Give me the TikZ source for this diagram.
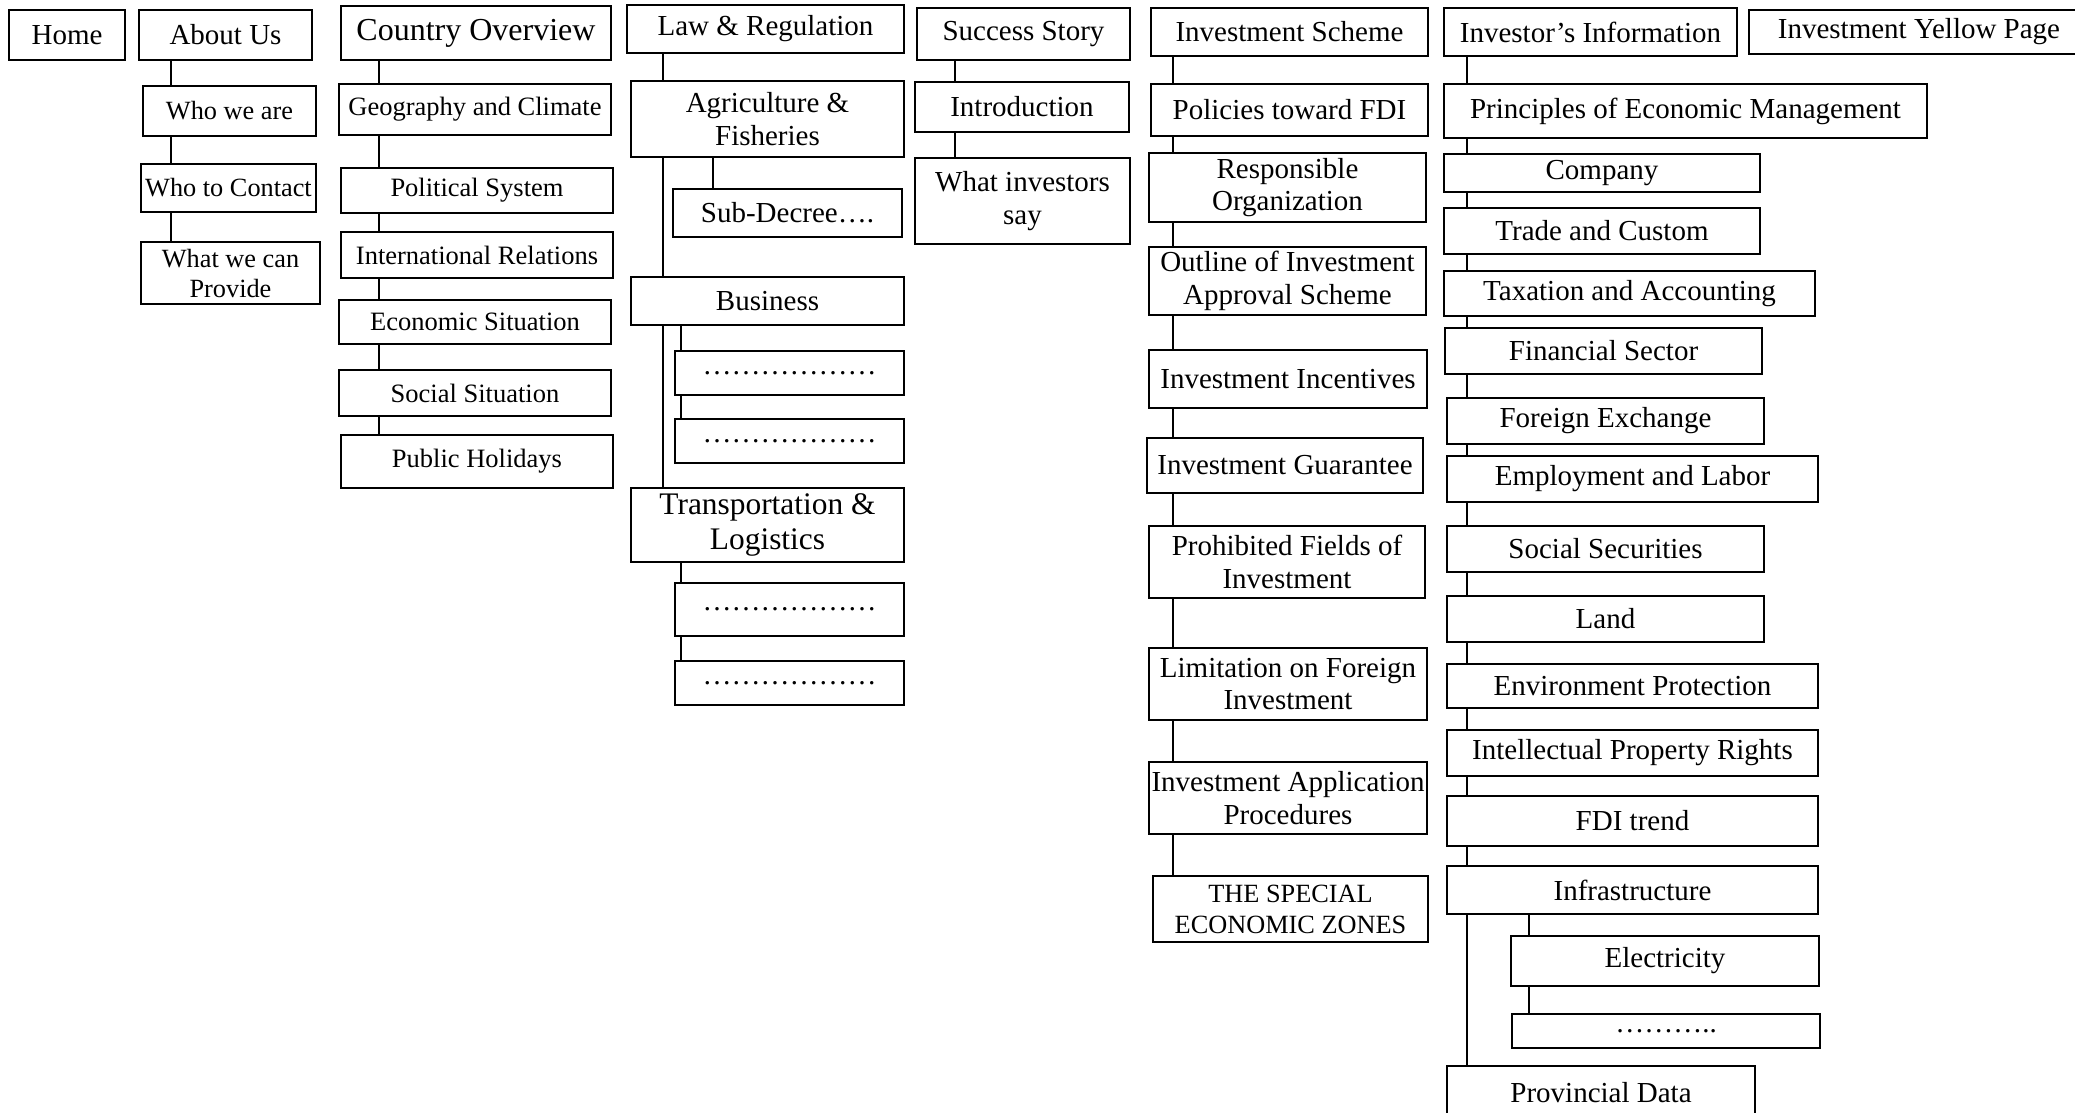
\documentclass[tikz,border=0pt]{standalone}
\usepackage{fontspec}
\setmainfont{Liberation Serif}

\tikzset{
  bx/.style={draw, line width=1.1pt, anchor=north west, inner sep=0pt, outer sep=0pt, align=center},
  lk/.style={line width=1.8pt},
  tophead/.style={font=\fontsize{29}{32}\selectfont},
  aboutitem/.style={font=\fontsize{26.3}{30}\selectfont},
  countryhead/.style={font=\fontsize{32}{36}\selectfont},
  countryitem/.style={font=\fontsize{26.5}{30}\selectfont},
  plainitem/.style={font=\fontsize{29}{32.5}\selectfont},
  bigitem/.style={font=\fontsize{31.4}{35}\selectfont},
  smallitem/.style={font=\fontsize{26.3}{31}\selectfont},
  infoitem/.style={font=\fontsize{29}{32}\selectfont},
}

\begin{document}
\begin{tikzpicture}[x=1pt, y=-1pt]
      \useasboundingbox (0,0) rectangle (2075,1112);
      \clip (0,0) rectangle (2075,1112);

      \node[bx, tophead, minimum width=116, minimum height=50] (home) at (9,10) {Home};

      \node[bx, tophead, minimum width=173, minimum height=50] (a0) at (139,10) {About Us};
      \node[bx, aboutitem, minimum width=173, minimum height=50] (a1) at (143,86) {Who we are};
      \node[bx, aboutitem, minimum width=175, minimum height=48] (a2) at (141,164) {Who to Contact};
      \node[bx, aboutitem, minimum width=179, minimum height=62] (a3) at (141,242) {What we can\\Provide};

      \node[bx, countryhead, minimum width=270, minimum height=54] (c0) at (341,6) {Country Overview};
      \node[bx, countryitem, minimum width=272, minimum height=51] (c1) at (339,84) {Geography and Climate};
      \node[bx, countryitem, minimum width=272, minimum height=45] (c2) at (341,168) {Political System};
      \node[bx, countryitem, minimum width=272, minimum height=46] (c3) at (341,232) {International Relations};
      \node[bx, countryitem, minimum width=272, minimum height=44] (c4) at (339,300) {Economic Situation};
      \node[bx, countryitem, minimum width=272, minimum height=46] (c5) at (339,370) {Social Situation};
      \node[bx, countryitem, minimum width=272, minimum height=53] (c6) at (341,435) {Public Holidays};

      \node[bx, plainitem, minimum width=277, minimum height=48] (l0) at (627,5) {Law \& Regulation};
      \node[bx, plainitem, minimum width=273, minimum height=76] (l1) at (631,81) {Agriculture \&\\Fisheries};
      \node[bx, plainitem, minimum width=229, minimum height=48] (l2) at (673,189) {Sub-Decree….};
      \node[bx, plainitem, minimum width=273, minimum height=48] (l3) at (631,277) {Business};
      \node[bx, plainitem, minimum width=229, minimum height=44] (l4) at (675,351) {………………};
      \node[bx, plainitem, minimum width=229, minimum height=44] (l5) at (675,419) {………………};
      \node[bx, bigitem, minimum width=273, minimum height=74] (l6) at (631,488) {Transportation \&\\Logistics};
      \node[bx, plainitem, minimum width=229, minimum height=53] (l7) at (675,583) {………………};
      \node[bx, plainitem, minimum width=229, minimum height=44] (l8) at (675,661) {………………};

      \node[bx, plainitem, minimum width=213, minimum height=52] (s0) at (917,8) {Success Story};
      \node[bx, plainitem, minimum width=214, minimum height=50] (s1) at (915,82) {Introduction};
      \node[bx, plainitem, minimum width=215, minimum height=86] (s2) at (915,158) {What investors\\say};

      \node[bx, plainitem, minimum width=277, minimum height=48] (i0) at (1151,8) {Investment Scheme};
      \node[bx, plainitem, minimum width=277, minimum height=52] (i1) at (1151,84) {Policies toward FDI};
      \node[bx, plainitem, minimum width=277, minimum height=69] (i2) at (1149,153) {Responsible\\Organization};
      \node[bx, plainitem, minimum width=277, minimum height=68] (i3) at (1149,247) {Outline of Investment\\Approval Scheme};
      \node[bx, plainitem, minimum width=278, minimum height=58] (i4) at (1149,350) {Investment Incentives};
      \node[bx, plainitem, minimum width=276, minimum height=55] (i5) at (1147,438) {Investment Guarantee};
      \node[bx, plainitem, minimum width=276, minimum height=72] (i6) at (1149,526) {Prohibited Fields of\\Investment};
      \node[bx, plainitem, minimum width=278, minimum height=72] (i7) at (1149,648) {Limitation on Foreign\\Investment};
      \node[bx, plainitem, minimum width=278, minimum height=72] (i8) at (1149,762) {Investment Application\\Procedures};
      \node[bx, smallitem, minimum width=275, minimum height=66] (i9) at (1153,876) {THE SPECIAL\\ECONOMIC ZONES};

      \node[bx, infoitem, minimum width=293, minimum height=48] (f0) at (1444,8) {Investor’s Information};
      \node[bx, infoitem, minimum width=340, minimum height=44] (yp) at (1749,10) {Investment Yellow Page};
      \node[bx, infoitem, minimum width=483, minimum height=54] (f1) at (1444,84) {Principles of Economic Management};
      \node[bx, infoitem, minimum width=316, minimum height=38] (f2) at (1444,154) {Company};
      \node[bx, infoitem, minimum width=316, minimum height=46] (f3) at (1444,208) {Trade and Custom};
      \node[bx, infoitem, minimum width=371, minimum height=45] (f4) at (1444,271) {Taxation and Accounting};
      \node[bx, infoitem, minimum width=317, minimum height=46] (f5) at (1445,328) {Financial Sector};
      \node[bx, infoitem, minimum width=317, minimum height=46] (f6) at (1447,398) {Foreign Exchange};
      \node[bx, infoitem, minimum width=371, minimum height=46] (f7) at (1447,456) {Employment and Labor};
      \node[bx, infoitem, minimum width=317, minimum height=46] (f8) at (1447,526) {Social Securities};
      \node[bx, infoitem, minimum width=317, minimum height=46] (f9) at (1447,596) {Land};
      \node[bx, infoitem, minimum width=371, minimum height=44] (f10) at (1447,664) {Environment Protection};
      \node[bx, infoitem, minimum width=371, minimum height=46] (f11) at (1447,730) {Intellectual Property Rights};
      \node[bx, infoitem, minimum width=371, minimum height=50] (f12) at (1447,796) {FDI trend};
      \node[bx, infoitem, minimum width=371, minimum height=48] (f13) at (1447,866) {Infrastructure};
      \node[bx, infoitem, minimum width=308, minimum height=50] (f14) at (1511,936) {Electricity};
      \node[bx, infoitem, minimum width=308, minimum height=34] (f15) at (1512,1014) {………..};
      \node[bx, infoitem, minimum width=308, minimum height=54] (f16) at (1447,1066) {Provincial Data};

      \coordinate (ax) at (171,0);
      \coordinate (cx) at (379,0);
      \coordinate (lx) at (663,0);
      \coordinate (lsx) at (681,0);
      \coordinate (lax) at (713,0);
      \coordinate (sx) at (955,0);
      \coordinate (ix) at (1173,0);
      \coordinate (fx) at (1467,0);
      \coordinate (fsx) at (1529,0);

      \foreach \p/\q in {a0/a1, a1/a2, a2/a3}
        \draw[lk] (\p.south -| ax) -- (\q.north -| ax);
      \foreach \p/\q in {c0/c1, c1/c2, c2/c3, c3/c4, c4/c5, c5/c6}
        \draw[lk] (\p.south -| cx) -- (\q.north -| cx);
      \foreach \p/\q in {l0/l1, l1/l3, l3/l6}
        \draw[lk] (\p.south -| lx) -- (\q.north -| lx);
      \foreach \p/\q in {l3/l4, l4/l5, l6/l7, l7/l8}
        \draw[lk] (\p.south -| lsx) -- (\q.north -| lsx);
      \draw[lk] (l1.south -| lax) -- (l2.north -| lax);
      \foreach \p/\q in {s0/s1, s1/s2}
        \draw[lk] (\p.south -| sx) -- (\q.north -| sx);
      \foreach \p/\q in {i0/i1, i1/i2, i2/i3, i3/i4, i4/i5, i5/i6, i6/i7, i7/i8, i8/i9}
        \draw[lk] (\p.south -| ix) -- (\q.north -| ix);
      \foreach \p/\q in {f0/f1, f1/f2, f2/f3, f3/f4, f4/f5, f5/f6, f6/f7, f7/f8, f8/f9, f9/f10, f10/f11, f11/f12, f12/f13, f13/f16}
        \draw[lk] (\p.south -| fx) -- (\q.north -| fx);
      \foreach \p/\q in {f13/f14, f14/f15}
        \draw[lk] (\p.south -| fsx) -- (\q.north -| fsx);
    \end{tikzpicture}
\end{document}
